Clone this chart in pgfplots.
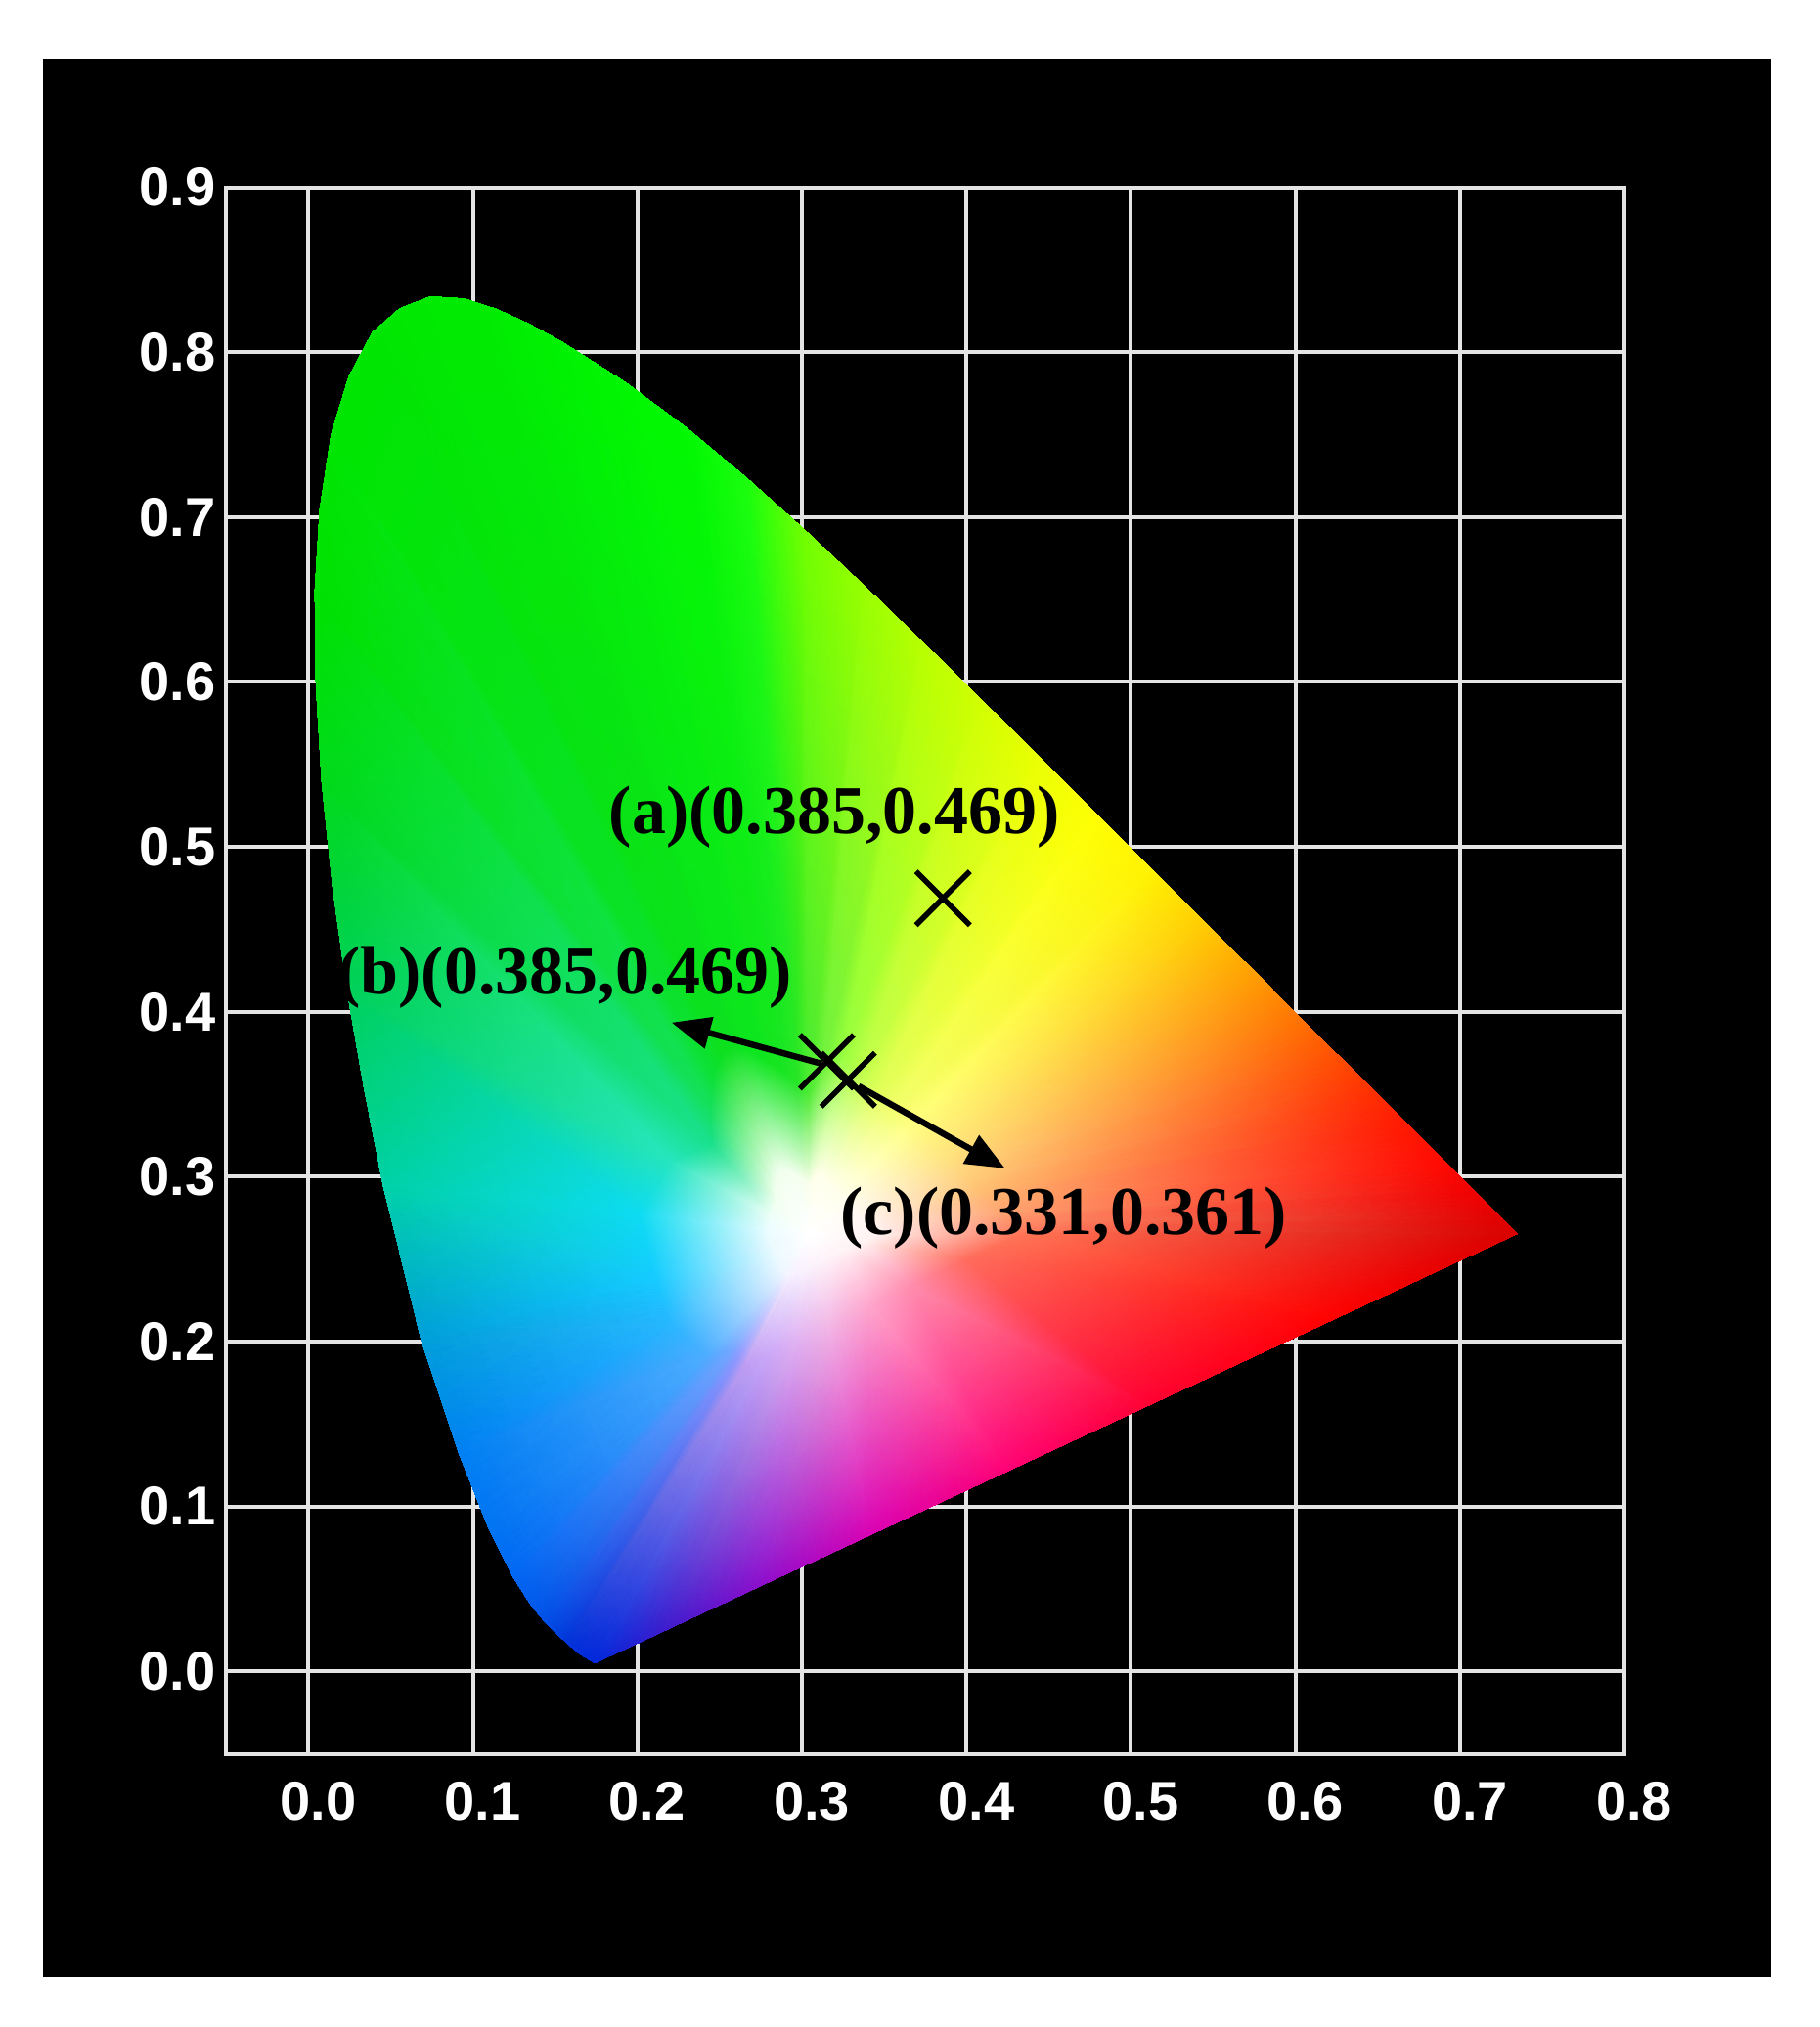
\documentclass[border=0pt]{standalone}
\usepackage{pgfplots}
\pgfplotsset{compat=1.18}
\usepackage{pgfplotstable}
\usepackage{fontspec}
\setmainfont{Liberation Serif}
\newfontfamily\tickfont{Liberation Sans}
\newfontfamily\lblfont{Liberation Serif}
\usetikzlibrary{arrows.meta}
\definecolor{gridc}{RGB}{228,228,228}

\pgfplotstableread{
x y c
0.305 0.265 rgb=1,1,1
0.2657 0.1870 rgb=0.75,0.62,0.95
0.2605 0.1908 rgb=0.55,0.6,1
0.2567 0.1944 rgb=0.45,0.65,1
0.2417 0.1925 rgb=0.3,0.68,1
0.2195 0.2121 rgb=0.15,0.72,1
0.2105 0.2393 rgb=0.08,0.8,1
0.2012 0.2770 rgb=0.05,0.86,0.95
0.2206 0.3093 rgb=0.15,0.9,0.75
0.2456 0.3197 rgb=0.1,0.88,0.55
0.2448 0.3430 rgb=0.08,0.88,0.35
0.2468 0.3620 rgb=0.05,0.88,0.2
0.2518 0.3744 rgb=0.05,0.88,0.12
0.2589 0.3788 rgb=0.05,0.88,0.12
0.2668 0.3772 rgb=0.05,0.9,0.12
0.2749 0.3732 rgb=0.05,0.9,0.12
0.2826 0.3683 rgb=0.08,0.9,0.12
0.2899 0.3629 rgb=0.1,0.9,0.14
0.2972 0.3569 rgb=0.15,0.9,0.15
0.3043 0.3505 rgb=0.3,0.92,0.2
0.3131 0.3635 rgb=0.45,0.95,0.25
0.3254 0.3729 rgb=0.6,1,0.25
0.3361 0.3624 rgb=0.75,1,0.3
0.3467 0.3519 rgb=0.88,1,0.35
0.3571 0.3416 rgb=0.95,1,0.42
0.3673 0.3315 rgb=1,1,0.5
0.3769 0.3218 rgb=1,0.95,0.5
0.3861 0.3128 rgb=1,0.9,0.5
0.3944 0.3045 rgb=1,0.85,0.5
0.4016 0.2973 rgb=1,0.8,0.48
0.4080 0.2909 rgb=1,0.75,0.45
0.4132 0.2857 rgb=1,0.7,0.45
0.4210 0.2780 rgb=1,0.65,0.45
0.4259 0.2731 rgb=1,0.58,0.42
0.4313 0.2677 rgb=1,0.5,0.38
0.4339 0.2651 rgb=1,0.45,0.33
0.4003 0.2495 rgb=1,0.42,0.36
0.3667 0.2339 rgb=1,0.55,0.68
0.3414 0.2221 rgb=1,0.65,0.8
0.3162 0.2104 rgb=0.95,0.72,0.9
0.2960 0.2011 rgb=0.88,0.7,0.95
0.2792 0.1932 rgb=0.8,0.66,0.97
0.1741 0.0050 rgb=0,0.15,0.85
0.1566 0.0177 rgb=0,0.2,0.85
0.1440 0.0297 rgb=0,0.3,0.9
0.1241 0.0578 rgb=0,0.4,0.95
0.0913 0.1327 rgb=0,0.5,0.95
0.0687 0.2007 rgb=0,0.62,0.85
0.0454 0.2950 rgb=0,0.82,0.65
0.0235 0.4127 rgb=0,0.82,0.35
0.0082 0.5384 rgb=0,0.85,0.1
0.0039 0.6548 rgb=0,0.88,0
0.0139 0.7502 rgb=0,0.9,0
0.0389 0.8120 rgb=0,0.9,0
0.0743 0.8338 rgb=0,0.92,0
0.1142 0.8262 rgb=0,0.93,0
0.1547 0.8059 rgb=0,0.95,0
0.1929 0.7816 rgb=0,0.97,0
0.2296 0.7543 rgb=0,0.98,0
0.2658 0.7243 rgb=0.1,1,0.05
0.3016 0.6923 rgb=0.45,1,0
0.3373 0.6589 rgb=0.6,1,0
0.3731 0.6245 rgb=0.72,1,0
0.4087 0.5896 rgb=0.82,1,0
0.4441 0.5547 rgb=0.92,1,0
0.4788 0.5202 rgb=1,1,0
0.5125 0.4866 rgb=1,0.95,0
0.5448 0.4544 rgb=1,0.8,0
0.5752 0.4242 rgb=1,0.62,0
0.6029 0.3965 rgb=1,0.45,0
0.6270 0.3725 rgb=1,0.3,0
0.6482 0.3514 rgb=1,0.18,0
0.6658 0.3340 rgb=1,0.1,0
0.6915 0.3083 rgb=1,0.03,0
0.7079 0.2920 rgb=0.95,0,0
0.7260 0.2740 rgb=0.88,0,0
0.7347 0.2653 rgb=0.85,0,0
0.6226 0.2132 rgb=1,0,0
0.5105 0.1612 rgb=1,0,0.2
0.4264 0.1221 rgb=1,0,0.45
0.3423 0.0831 rgb=0.85,0,0.7
0.2750 0.0519 rgb=0.55,0.05,0.8
0.2190 0.0258 rgb=0.25,0.1,0.8
0.0340 0.3530 rgb=0,0.82,0.5
0.0147 0.4760 rgb=0,0.83,0.22
0.0046 0.5980 rgb=0,0.87,0.05
0.0069 0.7045 rgb=0,0.89,0
0.0245 0.7850 rgb=0,0.9,0
0.0555 0.8265 rgb=0,0.91,0
0.0944 0.8325 rgb=0,0.92,0
0.1345 0.8170 rgb=0,0.94,0
0.2919 0.2390 rgb=0.96,0.94,1
0.2902 0.2403 rgb=0.95,0.95,1
0.2889 0.2415 rgb=0.94,0.96,1
0.2869 0.2443 rgb=0.93,0.97,1
0.2836 0.2518 rgb=0.92,0.98,1
0.2814 0.2586 rgb=0.92,0.98,1
0.2790 0.2680 rgb=0.92,0.99,1
0.2811 0.2776 rgb=0.93,1,0.97
0.2842 0.2841 rgb=0.94,1,0.94
0.2839 0.2923 rgb=0.94,1,0.93
0.2846 0.2990 rgb=0.94,1,0.93
0.2864 0.3033 rgb=0.94,1,0.93
0.2889 0.3048 rgb=0.94,1,0.93
0.2916 0.3043 rgb=0.94,1,0.93
0.2945 0.3029 rgb=0.95,1,0.93
0.2972 0.3012 rgb=0.95,1,0.93
0.2997 0.2992 rgb=0.96,1,0.93
0.3023 0.2971 rgb=0.97,1,0.93
0.3048 0.2949 rgb=0.98,1,0.93
0.3077 0.2985 rgb=1,1,0.92
0.3118 0.3010 rgb=1,1,0.92
0.3154 0.2975 rgb=1,1,0.92
0.3189 0.2940 rgb=1,1,0.92
0.3224 0.2905 rgb=1,1,0.92
0.3258 0.2872 rgb=1,1,0.93
0.3290 0.2839 rgb=1,0.99,0.94
0.3320 0.2809 rgb=1,0.98,0.94
0.3348 0.2782 rgb=1,0.97,0.94
0.3372 0.2758 rgb=1,0.97,0.94
0.3393 0.2736 rgb=1,0.96,0.94
0.3411 0.2719 rgb=1,0.96,0.94
0.3437 0.2693 rgb=1,0.95,0.94
0.3453 0.2677 rgb=1,0.95,0.94
0.3471 0.2659 rgb=1,0.95,0.94
0.3480 0.2650 rgb=1,0.95,0.94
0.3368 0.2598 rgb=1,0.95,0.95
0.3256 0.2546 rgb=1,0.95,0.96
0.3171 0.2507 rgb=1,0.95,0.97
0.3087 0.2468 rgb=0.99,0.95,0.98
0.3020 0.2437 rgb=0.98,0.95,0.99
0.2964 0.2411 rgb=0.97,0.94,1
0.1355 0.0399 rgb=0,0.35,0.92
0.1096 0.0868 rgb=0,0.45,0.95
0.1644 0.0109 rgb=0,0.17,0.85
0.1510 0.0227 rgb=0,0.25,0.87
}\gamutverts

\begin{document}
\begin{tikzpicture}
\path[fill=white] (-57.8pt,-69.85pt) rectangle (407.4pt,448.4pt);
\fill[black] (-46.9pt,-57.1pt) rectangle (394.85pt,433.5pt);
\begin{axis}[
  at={(0pt,0pt)}, anchor=south west,
  scale only axis, width=357.5pt, height=400.5pt,
  xmin=-0.05, xmax=0.8, ymin=-0.05, ymax=0.9,
  xtick={0,0.1,0.2,0.3,0.4,0.5,0.6,0.7,0.8},
  ytick={0,0.1,0.2,0.3,0.4,0.5,0.6,0.7,0.8,0.9},
  grid=major,
  major grid style={draw=gridc, line width=1pt},
  axis line style={draw=gridc, line width=1pt},
  major tick length=0pt,
  /pgf/number format/fixed,
  /pgf/number format/fixed zerofill,
  /pgf/number format/precision=1,
  /pgf/number format/assume math mode=true,
  xticklabel style={font=\tickfont\bfseries\fontsize{14}{14}\selectfont, text=white, inner sep=0pt, anchor=north, yshift=-7pt, xshift=2.5pt},
  yticklabel style={font=\tickfont\bfseries\fontsize{14}{14}\selectfont, text=white, inner sep=0pt, anchor=east, xshift=-2.5pt},
  clip=false,
]
\addplot[patch, shader=interp, mesh/color input=explicit,
  /pgfplots/table/row sep=\\,
  patch table={0 91 92\\ 91 1 2\\ 91 2 92\\ 1 42 134\\ 1 134 43\\ 1 43 2\\
0 92 93\\ 92 2 3\\ 92 3 93\\ 2 43 135\\ 2 135 44\\ 2 44 3\\
0 93 94\\ 93 3 4\\ 93 4 94\\ 3 44 132\\ 3 132 45\\ 3 45 4\\
0 94 95\\ 94 4 5\\ 94 5 95\\ 4 45 133\\ 4 133 46\\ 4 46 5\\
0 95 96\\ 95 5 6\\ 95 6 96\\ 5 46 47\\ 5 47 6\\
0 96 97\\ 96 6 7\\ 96 7 97\\ 6 47 48\\ 6 48 7\\
0 97 98\\ 97 7 8\\ 97 8 98\\ 7 48 83\\ 7 83 49\\ 7 49 8\\
0 98 99\\ 98 8 9\\ 98 9 99\\ 8 49 84\\ 8 84 50\\ 8 50 9\\
0 99 100\\ 99 9 10\\ 99 10 100\\ 9 50 85\\ 9 85 51\\ 9 51 10\\
0 100 101\\ 100 10 11\\ 100 11 101\\ 10 51 86\\ 10 86 52\\ 10 52 11\\
0 101 102\\ 101 11 12\\ 101 12 102\\ 11 52 87\\ 11 87 53\\ 11 53 12\\
0 102 103\\ 102 12 13\\ 102 13 103\\ 12 53 88\\ 12 88 54\\ 12 54 13\\
0 103 104\\ 103 13 14\\ 103 14 104\\ 13 54 89\\ 13 89 55\\ 13 55 14\\
0 104 105\\ 104 14 15\\ 104 15 105\\ 14 55 90\\ 14 90 56\\ 14 56 15\\
0 105 106\\ 105 15 16\\ 105 16 106\\ 15 56 57\\ 15 57 16\\
0 106 107\\ 106 16 17\\ 106 17 107\\ 16 57 58\\ 16 58 17\\
0 107 108\\ 107 17 18\\ 107 18 108\\ 17 58 59\\ 17 59 18\\
0 108 109\\ 108 18 19\\ 108 19 109\\ 18 59 60\\ 18 60 19\\
0 109 110\\ 109 19 20\\ 109 20 110\\ 19 60 61\\ 19 61 20\\
0 110 111\\ 110 20 21\\ 110 21 111\\ 20 61 62\\ 20 62 21\\
0 111 112\\ 111 21 22\\ 111 22 112\\ 21 62 63\\ 21 63 22\\
0 112 113\\ 112 22 23\\ 112 23 113\\ 22 63 64\\ 22 64 23\\
0 113 114\\ 113 23 24\\ 113 24 114\\ 23 64 65\\ 23 65 24\\
0 114 115\\ 114 24 25\\ 114 25 115\\ 24 65 66\\ 24 66 25\\
0 115 116\\ 115 25 26\\ 115 26 116\\ 25 66 67\\ 25 67 26\\
0 116 117\\ 116 26 27\\ 116 27 117\\ 26 67 68\\ 26 68 27\\
0 117 118\\ 117 27 28\\ 117 28 118\\ 27 68 69\\ 27 69 28\\
0 118 119\\ 118 28 29\\ 118 29 119\\ 28 69 70\\ 28 70 29\\
0 119 120\\ 119 29 30\\ 119 30 120\\ 29 70 71\\ 29 71 30\\
0 120 121\\ 120 30 31\\ 120 31 121\\ 30 71 72\\ 30 72 31\\
0 121 122\\ 121 31 32\\ 121 32 122\\ 31 72 73\\ 31 73 32\\
0 122 123\\ 122 32 33\\ 122 33 123\\ 32 73 74\\ 32 74 33\\
0 123 124\\ 123 33 34\\ 123 34 124\\ 33 74 75\\ 33 75 34\\
0 124 125\\ 124 34 35\\ 124 35 125\\ 34 75 76\\ 34 76 35\\
0 125 126\\ 125 35 36\\ 125 36 126\\ 35 76 77\\ 35 77 36\\
0 126 127\\ 126 36 37\\ 126 37 127\\ 36 77 78\\ 36 78 37\\
0 127 128\\ 127 37 38\\ 127 38 128\\ 37 78 79\\ 37 79 38\\
0 128 129\\ 128 38 39\\ 128 39 129\\ 38 79 80\\ 38 80 39\\
0 129 130\\ 129 39 40\\ 129 40 130\\ 39 80 81\\ 39 81 40\\
0 130 131\\ 130 40 41\\ 130 41 131\\ 40 81 82\\ 40 82 41\\
0 131 91\\ 131 41 1\\ 131 1 91\\ 41 82 42\\ 41 42 1\\
}] table[x=x, y=y, meta=c] {\gamutverts};

\addplot[black, line width=1.6pt, -{Triangle[length=10pt,width=8pt]}] coordinates {(0.312,0.3685) (0.2207,0.3935)};
\addplot[black, line width=1.6pt, -{Triangle[length=10pt,width=8pt]}] coordinates {(0.3344,0.3549) (0.4235,0.3050)};
\addplot[only marks, mark=x, mark size=9.75pt, mark options={line width=1.4pt, draw=black}] coordinates {(0.3857,0.4688) (0.3151,0.3697) (0.3281,0.3588)};

\node[font=\lblfont\bfseries\fontsize{17.5}{17.5}\selectfont, inner sep=0pt] at (axis cs:0.3198,0.518) {(a)(0.385,0.469)};
\node[font=\lblfont\bfseries\fontsize{17.5}{17.5}\selectfont, inner sep=0pt] at (axis cs:0.156,0.421) {(b)(0.385,0.469)};
\node[font=\lblfont\bfseries\fontsize{17.5}{17.5}\selectfont, inner sep=0pt] at (axis cs:0.4592,0.2751) {(c)(0.331,0.361)};
\end{axis}
\end{tikzpicture}
\end{document}
